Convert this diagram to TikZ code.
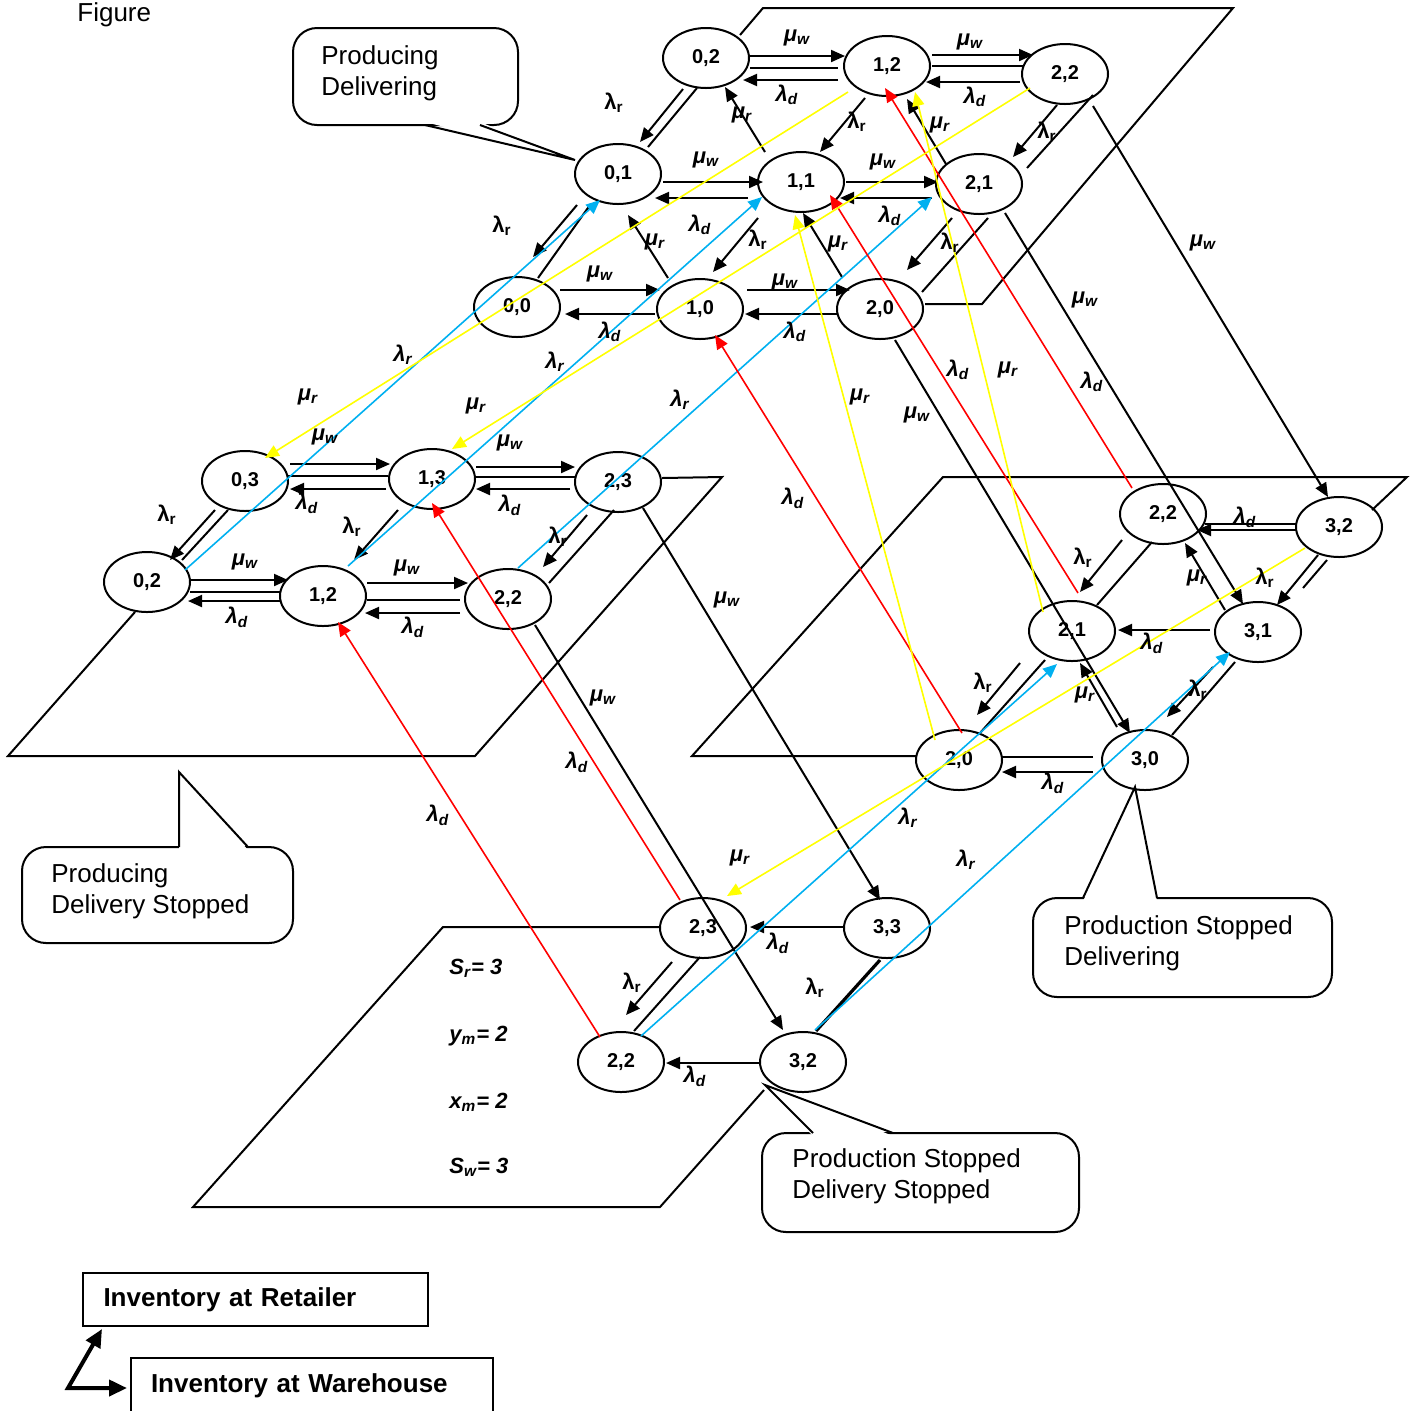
\documentclass[tikz,border=0pt]{standalone}
\usepackage{fontspec}
\setmainfont{Liberation Sans}
\usepackage{tikz}
\usetikzlibrary{shapes.geometric,arrows.meta,calc}

\definecolor{hellblau}{RGB}{0,176,240}
\definecolor{gelb}{RGB}{255,255,0}
\definecolor{rot}{RGB}{255,0,0}

\newcommand{\muW}{{\bfseries\itshape μ\textsubscript{w}}}
\newcommand{\muR}{{\bfseries\itshape μ\textsubscript{r}}}
\newcommand{\laD}{{\bfseries\itshape λ\textsubscript{d}}}
\newcommand{\laR}{{\bfseries λ\textsubscript{r}}}
\newcommand{\laRi}{{\bfseries\itshape λ\textsubscript{r}}}

\begin{document}
\begin{tikzpicture}[x=0.5pt, y=-0.5pt,
        font=\fontsize{13}{15.5}\selectfont,
        zst/.style={ellipse, draw, line width=1pt, minimum width=43pt,
            minimum height=30pt, inner sep=0pt,
            font=\bfseries\fontsize{10}{12}\selectfont},
        ra/.style={->, line width=1pt},
        lin/.style={line width=1pt},
        rate/.style={inner sep=0pt, font=\fontsize{11}{13}\selectfont},
        blau/.style={->, line width=0.8pt, draw=hellblau},
        rotpf/.style={->, line width=0.8pt, draw=rot},
        gelbpf/.style={->, line width=0.8pt, draw=gelb},
        >={Triangle[length=7pt,width=6pt]} % Pfeilspitzen
        ]
            \useasboundingbox (0,0) rectangle (1417,1410);

            % Zustaende
            \node[zst] (A02) at (706,58)  {0,2};
            \node[zst] (A12) at (887,66)  {1,2};
            \node[zst] (A22) at (1065,74) {2,2};
            \node[zst] (A01) at (618,174) {0,1};
            \node[zst] (A11) at (801,182) {1,1};
            \node[zst] (A21) at (979,184) {2,1};
            \node[zst] (A00) at (517,307) {0,0};
            \node[zst] (A10) at (700,309) {1,0};
            \node[zst] (A20) at (880,309) {2,0};

            \node[zst] (B03) at (245,481) {0,3};
            \node[zst] (B13) at (432,479) {1,3};
            \node[zst] (B23) at (618,482) {2,3};
            \node[zst] (B02) at (147,582) {0,2};
            \node[zst] (B12) at (323,596) {1,2};
            \node[zst] (B22) at (508,599) {2,2};

            \node[zst] (C22) at (1163,514) {2,2};
            \node[zst] (C32) at (1339,527) {3,2};
            \node[zst] (C21) at (1072,631) {2,1};
            \node[zst] (C31) at (1258,632) {3,1};
            \node[zst] (C20) at (959,760)  {2,0};
            \node[zst] (C30) at (1145,760) {3,0};

            \node[zst] (D23) at (703,928)  {2,3};
            \node[zst] (D33) at (887,928)  {3,3};
            \node[zst] (D22) at (621,1062) {2,2};
            \node[zst] (D32) at (803,1062) {3,2};

            % Ebenen
            \draw[lin] ($(A02)+(34,-23)$) -- (763,8) -- (1233,8) -- (982,304) -- ($(A20)+(45,-5)$);
            \draw[lin] ($(B23)+(44,-4)$) -- (722,477) -- (475,756) -- (8,756) -- ($(B02)+(-12,30)$);
            \draw[lin] ($(C20)+(-43,-4)$) -- (692,756) -- (943,477) -- (1407,477) -- ($(C32)+(33,-17)$);
            \draw[lin] ($(D23)+(-43,-1)$) -- (443,927) -- (193,1207) -- (660,1207) -- ($(D32)+(-39,28)$);

            % Ebene A
            \draw[ra]  ($(A02)+(44,-2)$)  -- ($(A12)+(-42,-10)$);
            \draw[lin] ($(A02)+(44,10)$)  -- ($(A12)+(-49,2)$);
            \draw[ra]  ($(A12)+(-49,14)$) -- ($(A02)+(37,22)$);
            \draw[ra]  ($(A12)+(45,-11)$) -- ($(A22)+(-32,-19)$);
            \draw[lin] ($(A12)+(45,0)$)   -- ($(A22)+(-41,-8)$);
            \draw[ra]  ($(A22)+(-45,8)$)  -- ($(A12)+(39,16)$);
            \draw[ra]  ($(A01)+(45,8)$)   -- ($(A11)+(-38,0)$);
            \draw[ra]  ($(A11)+(-53,16)$) -- ($(A01)+(37,24)$);
            \draw[ra]  ($(A11)+(45,0)$)   -- ($(A21)+(-41,-2)$);
            \draw[ra]  ($(A21)+(-47,14)$) -- ($(A11)+(39,16)$);
            \draw[ra]  ($(A00)+(43,-17)$) -- ($(A10)+(-40,-19)$);
            \draw[ra]  ($(A10)+(-45,5)$)  -- ($(A00)+(48,7)$);
            \draw[ra]  ($(A10)+(47,-19)$) -- ($(A20)+(-30,-19)$);
            \draw[ra]  ($(A20)+(-42,5)$)  -- ($(A10)+(45,5)$);

            \draw[ra]  ($(A02)+(-23,31)$) -- ($(A01)+(22,-32)$);
            \draw[lin] ($(A02)+(-9,30)$)  -- ($(A01)+(30,-27)$);
            \draw[ra]  ($(A01)+(-41,31)$) -- ($(A00)+(16,-50)$);
            \draw[lin] ($(A00)+(21,-29)$) -- ($(A01)+(-28,31)$);
            \draw[ra]  ($(A12)+(-22,32)$) -- ($(A11)+(19,-30)$);
            \draw[ra]  ($(A11)+(-43,36)$) -- ($(A10)+(13,-37)$);
            \draw[ra]  ($(A22)+(-8,31)$)  -- ($(A21)+(34,-27)$);
            \draw[lin] ($(A22)+(28,21)$)  -- ($(A21)+(48,-16)$);
            \draw[ra]  ($(A21)+(-27,34)$) -- ($(A20)+(27,-39)$);
            \draw[lin] ($(A21)+(9,34)$)   -- ($(A20)+(42,-17)$);

            \draw[ra]  ($(A10)+(-32,-31)$) -- ($(A01)+(10,41)$);
            \draw[ra]  ($(A11)+(-36,-30)$) -- ($(A02)+(19,29)$);
            \draw[ra]  ($(A20)+(-38,-32)$) -- ($(A11)+(2,31)$);
            \draw[ra]  ($(A21)+(-33,-20)$) -- ($(A12)+(20,33)$);

            % Ebene B
            \draw[ra]  ($(B03)+(45,-17)$) -- ($(B13)+(-42,-15)$);
            \draw[lin] ($(B03)+(43,-5)$)  -- ($(B13)+(-44,-3)$);
            \draw[ra]  ($(B13)+(-46,10)$) -- ($(B03)+(45,8)$);
            \draw[ra]  ($(B13)+(44,-12)$) -- ($(B23)+(-43,-15)$);
            \draw[lin] ($(B13)+(44,-2)$)  -- ($(B23)+(-42,-5)$);
            \draw[ra]  ($(B23)+(-48,7)$)  -- ($(B13)+(44,10)$);
            \draw[ra]  ($(B02)+(43,-2)$)  -- ($(B12)+(-35,-16)$);
            \draw[lin] ($(B02)+(43,10)$)  -- ($(B12)+(-43,-4)$);
            \draw[ra]  ($(B12)+(-43,5)$)  -- ($(B02)+(41,19)$);
            \draw[ra]  ($(B12)+(44,-13)$) -- ($(B22)+(-40,-16)$);
            \draw[lin] ($(B12)+(44,4)$)   -- ($(B22)+(-48,1)$);
            \draw[ra]  ($(B22)+(-48,14)$) -- ($(B12)+(42,17)$);

            \draw[ra]  ($(B03)+(-30,29)$) -- ($(B02)+(23,-22)$);
            \draw[lin] ($(B03)+(-17,29)$) -- ($(B02)+(35,-22)$);
            \draw[ra]  ($(B13)+(-34,31)$) -- ($(B12)+(31,-36)$);
            \draw[ra]  ($(B23)+(-31,33)$) -- ($(B22)+(35,-32)$);
            \draw[lin] ($(B23)+(-4,28)$)  -- ($(B22)+(41,-16)$);

            % Ebene C
            \draw[ra]  ($(C32)+(-43,3)$)   -- ($(C22)+(34,16)$);
            \draw[lin] ($(C32)+(-43,-3)$)  -- ($(C22)+(42,10)$);
            \draw[ra]  ($(C32)+(-21,28)$)  -- ($(C31)+(19,-27)$);
            \draw[lin] ($(C32)+(-12,33)$)  -- ($(C31)+(45,-44)$);
            \draw[ra]  ($(C22)+(-41,26)$)  -- ($(C21)+(8,-39)$);
            \draw[lin] ($(C22)+(-11,28)$)  -- ($(C21)+(25,-26)$);
            \draw[ra]  ($(C31)+(-48,-2)$)  -- ($(C21)+(46,-1)$);
            \draw[ra]  ($(C31)+(-45,35)$)  -- ($(C30)+(22,-43)$);
            \draw[lin] ($(C31)+(-23,30)$)  -- ($(C30)+(27,-25)$);
            \draw[ra]  ($(C30)+(-28,-33)$) -- ($(C21)+(8,32)$);
            \draw[ra]  ($(C31)+(-33,-22)$) -- ($(C22)+(22,29)$);
            \draw[ra]  ($(C21)+(-52,32)$)  -- ($(C20)+(18,-45)$);
            \draw[lin] ($(C21)+(-27,29)$)  -- ($(C20)+(21,-27)$);
            \draw[ra]  ($(C30)+(-52,12)$)  -- ($(C20)+(43,12)$);
            \draw[lin] ($(C30)+(-52,-3)$)  -- ($(C20)+(43,-3)$);

            % Ebene D
            \draw[ra]  ($(D33)+(-42,-1)$) -- ($(D23)+(47,-1)$);
            \draw[ra]  ($(D23)+(-31,34)$) -- ($(D22)+(5,-47)$);
            \draw[lin] ($(D23)+(-3,29)$)  -- ($(D22)+(13,-31)$);
            \draw[line width=1.6pt] ($(D33)+(-7,32)$) -- ($(D32)+(13,-31)$);
            \draw[ra]  ($(D32)+(-44,1)$)  -- ($(D22)+(45,1)$);

            % Uebergaenge zwischen den Ebenen
            \draw[ra] ($(A22)+(28,32)$) -- ($(C32)+(-11,-30)$);
            \draw[ra] ($(A21)+(26,29)$) -- ($(C31)+(-15,-28)$);
            \draw[ra] ($(A20)+(15,31)$) -- ($(C30)+(-15,-27)$);
            \draw[ra] ($(B23)+(25,26)$) -- ($(D33)+(-7,-28)$);
            \draw[ra] ($(B22)+(27,26)$) -- ($(D32)+(-20,-32)$);

            \draw[blau] ($(B02)+(38,-12)$) -- ($(A01)+(-18,26)$);
            \draw[blau] ($(B12)+(25,-30)$) -- ($(A11)+(-39,15)$);
            \draw[blau] ($(B22)+(10,-31)$) -- ($(A21)+(-47,13)$);
            \draw[blau] ($(D22)+(20,-26)$) -- ($(C21)+(-15,33)$);
            \draw[blau] ($(D32)+(12,-32)$) -- ($(C31)+(-28,20)$);

            \draw[rotpf] ($(C22)+(-31,-26)$) -- ($(A12)+(-2,22)$);
            \draw[rotpf] ($(C21)+(6,-38)$)   -- ($(A11)+(29,13)$);
            \draw[rotpf] ($(C20)+(3,-27)$)   -- ($(A10)+(15,26)$);
            \draw[rotpf] ($(D23)+(-23,-28)$) -- ($(B13)+(0,24)$);
            \draw[rotpf] ($(D22)+(-21,-25)$) -- ($(B12)+(15,26)$);

            \draw[gelbpf] ($(A12)+(-39,26)$) -- ($(B03)+(20,-23)$);
            \draw[gelbpf] ($(A22)+(-35,14)$) -- ($(B13)+(20,-30)$);
            \draw[gelbpf] ($(C20)+(-24,-20)$) -- ($(A11)+(-6,33)$);
            \draw[gelbpf] ($(C21)+(-29,-19)$) -- ($(A12)+(28,26)$);
            \draw[gelbpf] ($(C32)+(-34,21)$) -- ($(D23)+(24,-32)$);

            % Raten
            \node[rate] (mw1)  at (797,38)  {\muW};
            \node[rate] (mw2)  at (970,42)  {\muW};
            \node[rate] (mw3)  at (706,160) {\muW};
            \node[rate] (mw4)  at (883,162) {\muW};
            \node[rate] (mw5)  at (600,274) {\muW};
            \node[rate] (mw6)  at (785,282) {\muW};
            \node[rate] (mw7)  at (325,437) {\muW};
            \node[rate] (mw8)  at (510,443) {\muW};
            \node[rate] (mw9)  at (245,562) {\muW};
            \node[rate] (mw10) at (407,568) {\muW};
            \node[rate] (mw11) at (1203,243) {\muW};
            \node[rate] (mw12) at (1085,300) {\muW};
            \node[rate] (mw13) at (917,415) {\muW};
            \node[rate] (mw14) at (727,600) {\muW};
            \node[rate] (mw15) at (603,698) {\muW};

            \node[rate] (ld1)  at (787,95)  {\laD};
            \node[rate] (ld2)  at (975,97)  {\laD};
            \node[rate] (ld3)  at (700,225) {\laD};
            \node[rate] (ld4)  at (890,216) {\laD};
            \node[rate] (ld5)  at (610,332) {\laD};
            \node[rate] (ld6)  at (795,332) {\laD};
            \node[rate] (ld7)  at (307,503) {\laD};
            \node[rate] (ld8)  at (510,505) {\laD};
            \node[rate] (ld9)  at (237,617) {\laD};
            \node[rate] (ld10) at (413,627) {\laD};
            \node[rate] (ld11) at (1245,517) {\laD};
            \node[rate] (ld12) at (1152,643) {\laD};
            \node[rate] (ld13) at (1053,783) {\laD};
            \node[rate] (ld14) at (778,943) {\laD};
            \node[rate] (ld15) at (695,1076) {\laD};
            \node[rate] (ld16) at (1092,382) {\laD};
            \node[rate] (ld17) at (958,370) {\laD};
            \node[rate] (ld18) at (793,498) {\laD};
            \node[rate] (ld19) at (577,762) {\laD};
            \node[rate] (ld20) at (438,815) {\laD};

            \node[rate] (lr1)  at (614,103) {\laR};
            \node[rate] (lr2)  at (502,226) {\laR};
            \node[rate] (lr3)  at (857,122) {\laR};
            \node[rate] (lr4)  at (758,240) {\laR};
            \node[rate] (lr5)  at (1047,132) {\laR};
            \node[rate] (lr6)  at (950,243) {\laR};
            \node[rate] (lr7)  at (167,515) {\laR};
            \node[rate] (lr8)  at (352,527) {\laR};
            \node[rate] (lr9)  at (558,537) {\laR};
            \node[rate] (lr10) at (1265,578) {\laR};
            \node[rate] (lr11) at (1083,558) {\laR};
            \node[rate] (lr12) at (1198,690) {\laR};
            \node[rate] (lr13) at (983,683) {\laR};
            \node[rate] (lr14) at (632,983) {\laR};
            \node[rate] (lr15) at (815,988) {\laR};
            \node[rate] (lr16) at (403,355) {\laRi};
            \node[rate] (lr17) at (555,362) {\laRi};
            \node[rate] (lr18) at (680,400) {\laRi};
            \node[rate] (lr19) at (908,818) {\laRi};
            \node[rate] (lr20) at (966,860) {\laRi};

            \node[rate] (mr1)  at (742,115) {\muR};
            \node[rate] (mr2)  at (655,242) {\muR};
            \node[rate] (mr3)  at (838,244) {\muR};
            \node[rate] (mr4)  at (940,125) {\muR};
            \node[rate] (mr5)  at (1197,578) {\muR};
            \node[rate] (mr6)  at (1085,695) {\muR};
            \node[rate] (mr7)  at (308,397) {\muR};
            \node[rate] (mr8)  at (476,406) {\muR};
            \node[rate] (mr9)  at (860,397) {\muR};
            \node[rate] (mr10) at (1008,370) {\muR};
            \node[rate] (mr11) at (740,858) {\muR};

            % Parameter
            \node[rate, anchor=west, font=\bfseries\itshape\fontsize{11}{13}\selectfont] (sr) at (449,968)  {S\textsubscript{r}= 3};
            \node[rate, anchor=west, font=\bfseries\itshape\fontsize{11}{13}\selectfont] (ym) at (449,1036) {y\textsubscript{m}= 2};
            \node[rate, anchor=west, font=\bfseries\itshape\fontsize{11}{13}\selectfont] (xm) at (449,1102) {x\textsubscript{m}= 2};
            \node[rate, anchor=west, font=\bfseries\itshape\fontsize{11}{13}\selectfont] (sw) at (449,1167) {S\textsubscript{w}= 3};

            % Sprechblasen
            \node[anchor=west, align=left, inner sep=0pt] (pd) at (321,73) {Producing\\Delivering};
            \draw[lin, rounded corners=12pt] (293,28) rectangle (518,125);
            \fill[white] (425,122) -- ($(A01)+(-43,-14)$) -- (480,122) -- cycle;
            \draw[lin] (425,125) -- ($(A01)+(-43,-14)$) -- (480,125);

            \node[anchor=west, align=left, inner sep=0pt] (pds) at (51,891) {Producing\\Delivery Stopped};
            \coordinate (spitze) at (179,772);
            \draw[lin, rounded corners=12pt] (22,847) rectangle (293,943);
            \fill[white] (179,850) -- (spitze) -- (248,850) -- cycle;
            \draw[lin] (179,847) -- (spitze) -- (248,847);

            \node[anchor=west, align=left, inner sep=0pt] (psd) at (1064,943) {Production Stopped\\Delivering};
            \draw[lin, rounded corners=12pt] (1033,898) rectangle (1332,997);
            \fill[white] (1083,901) -- ($(C30)+(-10,27)$) -- (1157,901) -- cycle;
            \draw[lin] (1083,898) -- ($(C30)+(-10,27)$) -- (1157,898);

            \node[anchor=west, align=left, inner sep=0pt] (psds) at (792,1176) {Production Stopped\\Delivery Stopped};
            \draw[lin, rounded corners=12pt] (762,1133) rectangle (1079,1232);
            \fill[white] (813,1136) -- ($(D32)+(-38,23)$) -- (893,1136) -- cycle;
            \draw[lin] (813,1133) -- ($(D32)+(-38,23)$) -- (893,1133);

            % Legende
            \node[anchor=base west, inner sep=0pt] (fig) at (77,21) {Figure};
            \node[draw, lin, text width=152pt, align=left, inner xsep=10.25pt,
                minimum height=26.5pt, font=\bfseries\fontsize{13}{15.5}\selectfont]
                (ret) at (255.5,1299.5) {Inventory at Retailer};
            \node[draw, lin, text width=161pt, align=left, inner xsep=10pt,
                minimum height=28pt, font=\bfseries\fontsize{13}{15.5}\selectfont]
                (wh) at (312,1386) {Inventory at Warehouse};
            \coordinate (knick) at (68,1388);
            \draw[line width=2pt, {Triangle[length=9pt,width=8pt]}-{Triangle[length=9pt,width=8pt]}]
                ($(ret.south west)+(20,2)$) -- (knick) -- ($(wh.west)+(-3,2)$);
        \end{tikzpicture}
\end{document}
